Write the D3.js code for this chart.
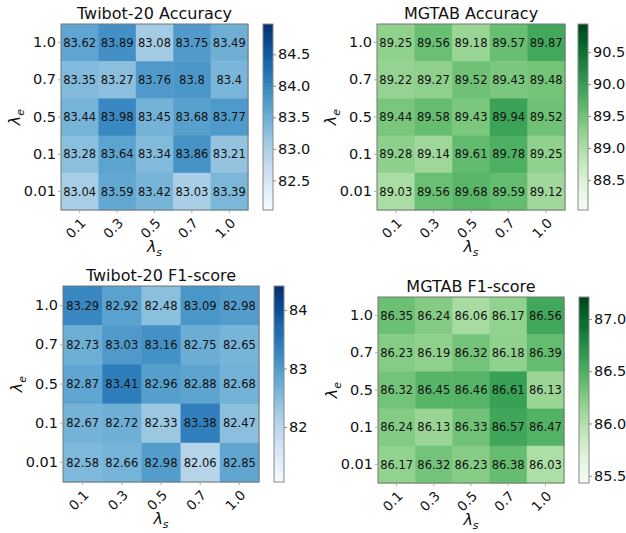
<!DOCTYPE html>
<html>
<head>
<meta charset="utf-8">
<script src="https://cdn.jsdelivr.net/npm/d3@7"></script>
<style>
  body { margin: 0; background: #fff; }
  text { font-family: "DejaVu Sans", sans-serif; }
</style>
</head>
<body>
<svg id="chart" width="626" height="533"></svg>
<script>
const svg = d3.select('#chart');

// axis categories
const lambdaS = ["0.1", "0.3", "0.5", "0.7", "1.0"];
const lambdaE = ["1.0", "0.7", "0.5", "0.1", "0.01"];

// rows follow lambdaE (top to bottom), columns follow lambdaS
const twibotAcc = [
  [83.62, 83.89, 83.08, 83.75, 83.49],
  [83.35, 83.27, 83.76, 83.80, 83.40],
  [83.44, 83.98, 83.45, 83.68, 83.77],
  [83.28, 83.64, 83.34, 83.86, 83.21],
  [83.04, 83.59, 83.42, 83.03, 83.39]
];
const mgtabAcc = [
  [89.25, 89.56, 89.18, 89.57, 89.87],
  [89.22, 89.27, 89.52, 89.43, 89.48],
  [89.44, 89.58, 89.43, 89.94, 89.52],
  [89.28, 89.14, 89.61, 89.78, 89.25],
  [89.03, 89.56, 89.68, 89.59, 89.12]
];
const twibotF1 = [
  [83.29, 82.92, 82.48, 83.09, 82.98],
  [82.73, 83.03, 83.16, 82.75, 82.65],
  [82.87, 83.41, 82.96, 82.88, 82.68],
  [82.67, 82.72, 82.33, 83.38, 82.47],
  [82.58, 82.66, 82.98, 82.06, 82.85]
];
const mgtabF1 = [
  [86.35, 86.24, 86.06, 86.17, 86.56],
  [86.23, 86.19, 86.32, 86.18, 86.39],
  [86.32, 86.45, 86.46, 86.61, 86.13],
  [86.24, 86.13, 86.33, 86.57, 86.47],
  [86.17, 86.32, 86.23, 86.38, 86.03]
];

// colorbar ticks
const ticksTwibotAcc = [82.5, 83.0, 83.5, 84.0, 84.5];
const ticksMgtabAcc = [88.5, 89.0, 89.5, 90.0, 90.5];
const ticksTwibotF1 = [82, 83, 84];
const ticksMgtabF1 = [85.5, 86.0, 86.5, 87.0];

const panels = [
  {title: "Twibot-20 Accuracy", data: twibotAcc, ticks: ticksTwibotAcc, fmt: ".1f", pad: 1.0,
   interp: d3.interpolateBlues, x: 61, y: 24, w: 187, h: 186, cbx: 263},
  {title: "MGTAB Accuracy", data: mgtabAcc, ticks: ticksMgtabAcc, fmt: ".1f", pad: 1.0,
   interp: d3.interpolateGreens, x: 377, y: 24, w: 188, h: 186, cbx: 578},
  {title: "Twibot-20 F1-score", data: twibotF1, ticks: ticksTwibotF1, fmt: "d", pad: 1.0,
   interp: d3.interpolateBlues, x: 63, y: 286, w: 196, h: 196, cbx: 274},
  {title: "MGTAB F1-score", data: mgtabF1, ticks: ticksMgtabF1, fmt: ".1f", pad: 0.6,
   interp: d3.interpolateGreens, x: 378, y: 297, w: 186, h: 186, cbx: 579}
];

const fmtCell = v => String(+v.toFixed(2));

panels.forEach(p => {
  const g = svg.append('g');
  const flat = p.data.flat();
  const vmin = d3.min(flat) - p.pad;
  const vmax = d3.max(flat) + p.pad;
  const color = d3.scaleSequential(p.interp).domain([vmin, vmax]);

  const xScale = d3.scaleBand().domain(lambdaS).range([p.x, p.x + p.w]);
  const yScale = d3.scaleBand().domain(lambdaE).range([p.y, p.y + p.h]);

  // cells
  const cells = [];
  p.data.forEach((row, i) => row.forEach((v, j) => cells.push({e: lambdaE[i], s: lambdaS[j], v: v})));

  g.selectAll('rect.cell')
    .data(cells)
    .enter()
    .append('rect')
      .attr('x', d => xScale(d.s))
      .attr('y', d => yScale(d.e))
      .attr('width', xScale.bandwidth() + 0.5)
      .attr('height', yScale.bandwidth() + 0.5)
      .attr('fill', d => color(d.v));

  g.selectAll('text.val')
    .data(cells)
    .enter()
    .append('text')
      .attr('x', d => xScale(d.s) + xScale.bandwidth() / 2)
      .attr('y', d => yScale(d.e) + yScale.bandwidth() / 2)
      .attr('dy', '0.36em')
      .attr('text-anchor', 'middle')
      .attr('font-size', 11.5)
      .attr('fill', '#111')
      .text(d => fmtCell(d.v));

  g.append('rect')
    .attr('x', p.x).attr('y', p.y)
    .attr('width', p.w).attr('height', p.h)
    .attr('fill', 'none').attr('stroke', '#777').attr('stroke-width', 1);

  // axes
  const xAxis = g.append('g')
    .attr('transform', 'translate(0,' + (p.y + p.h) + ')')
    .call(d3.axisBottom(xScale).tickSize(3).tickPadding(4));
  xAxis.select('.domain').remove();
  xAxis.selectAll('line').attr('stroke', '#aaa');
  xAxis.selectAll('text')
    .attr('font-size', 13.5)
    .attr('fill', '#111')
    .attr('text-anchor', 'end')
    .attr('dy', null)
    .attr('y', 0)
    .attr('transform', 'translate(7,14) rotate(-45)');

  const yAxis = g.append('g')
    .attr('transform', 'translate(' + p.x + ',0)')
    .call(d3.axisLeft(yScale).tickSize(3).tickPadding(2));
  yAxis.select('.domain').remove();
  yAxis.selectAll('line').attr('stroke', '#aaa');
  yAxis.selectAll('text').attr('font-size', 14.5).attr('fill', '#111');

  // title
  g.append('text')
    .attr('x', p.x + p.w / 2)
    .attr('y', p.y - 5)
    .attr('text-anchor', 'middle')
    .attr('font-size', 16)
    .attr('fill', '#111')
    .text(p.title);

  // axis labels
  const xl = g.append('text')
    .attr('x', p.x + p.w / 2)
    .attr('y', p.y + p.h + 42)
    .attr('text-anchor', 'middle')
    .attr('font-size', 16)
    .attr('fill', '#111');
  xl.append('tspan').attr('font-style', 'italic').text('λ');
  xl.append('tspan').attr('font-style', 'italic').attr('font-size', 11).attr('dy', 4).text('s');

  const yl = g.append('text')
    .attr('transform', 'translate(' + (p.x - 41) + ',' + (p.y + p.h / 2) + ') rotate(-90)')
    .attr('text-anchor', 'middle')
    .attr('font-size', 16)
    .attr('fill', '#111');
  yl.append('tspan').attr('font-style', 'italic').text('λ');
  yl.append('tspan').attr('font-style', 'italic').attr('font-size', 11).attr('dy', 4).text('e');

  // colorbar
  const cbw = 10;
  const cbScale = d3.scaleLinear().domain([vmin, vmax]).range([p.y + p.h, p.y]);
  const steps = d3.range(0, 100);
  g.selectAll('rect.cb')
    .data(steps)
    .enter()
    .append('rect')
      .attr('x', p.cbx)
      .attr('y', i => cbScale(vmin + (vmax - vmin) * (i + 1) / 100))
      .attr('width', cbw)
      .attr('height', p.h / 100 + 0.6)
      .attr('fill', i => color(vmin + (vmax - vmin) * (i + 0.5) / 100));
  g.append('rect')
    .attr('x', p.cbx).attr('y', p.y)
    .attr('width', cbw).attr('height', p.h)
    .attr('fill', 'none').attr('stroke', '#888').attr('stroke-width', 1);

  const cbAxis = g.append('g')
    .attr('transform', 'translate(' + (p.cbx + cbw) + ',0)')
    .call(d3.axisRight(cbScale).tickValues(p.ticks).tickFormat(d3.format(p.fmt)).tickSize(3).tickPadding(2));
  cbAxis.select('.domain').remove();
  cbAxis.selectAll('line').attr('stroke', '#888');
  cbAxis.selectAll('text').attr('font-size', 14.5).attr('fill', '#111');
});
</script>
</body>
</html>
